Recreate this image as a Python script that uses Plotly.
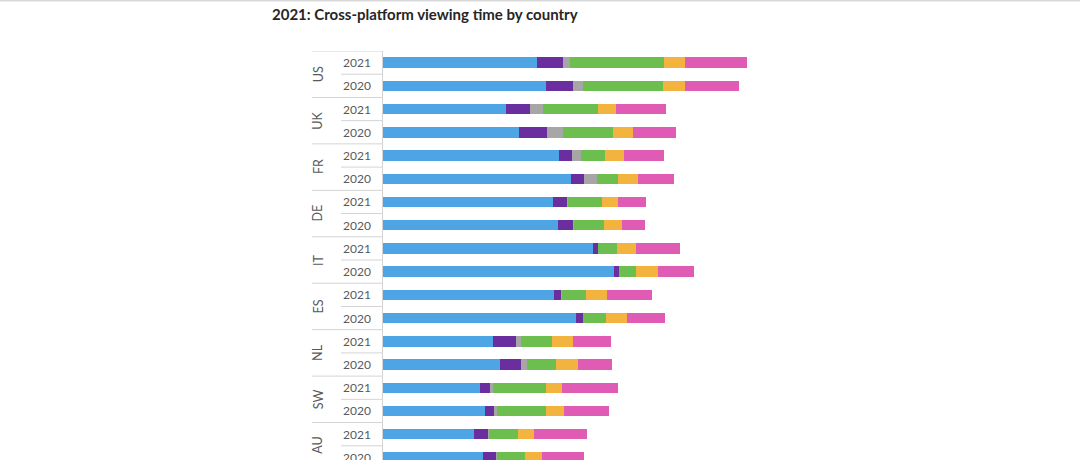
import plotly.graph_objects as go

# ---- data (segment lengths, same arbitrary time unit) ----
countries = ["US", "UK", "FR", "DE", "IT", "ES", "NL", "SW", "AU"]
years = ["2021", "2020"]

segment_names = ["Segment 1", "Segment 2", "Segment 3", "Segment 4", "Segment 5", "Segment 6"]
segment_colors = ["#4DA5E6", "#6A2E9E", "#A6A6A6", "#6CBE4E", "#F2B43E", "#E05BB4"]

# order of rows: US 2021, US 2020, UK 2021, UK 2020, ...
seg1 = [154, 163, 123, 136, 176, 188, 170, 175, 210, 231, 171, 193, 110, 117, 97, 102, 91, 100]
seg2 = [26, 27, 24, 28, 13, 13, 14, 15, 5, 5, 7, 7, 23, 21, 10, 9, 14, 13]
seg3 = [7, 10, 13, 16, 9, 13, 1, 1, 0, 0, 1, 0, 5, 6, 3, 3, 1, 1]
seg4 = [94, 80, 55, 50, 24, 21, 34, 30, 19, 17, 24, 23, 31, 29, 53, 49, 29, 28]
seg5 = [21, 22, 18, 20, 19, 20, 16, 18, 19, 22, 21, 21, 21, 22, 16, 18, 16, 17]
seg6 = [62, 54, 50, 43, 40, 36, 28, 23, 44, 36, 45, 38, 38, 34, 56, 45, 53, 42]
series = [seg1, seg2, seg3, seg4, seg5, seg6]

title_text = "2021: Cross-platform viewing time by country"

# ---- figure ----
n_rows = len(countries) * len(years)
row_pos = list(range(n_rows))

fig = go.Figure()
for name, color, vals in zip(segment_names, segment_colors, series):
    fig.add_trace(go.Bar(
        y=row_pos, x=vals, orientation="h", name=name,
        marker=dict(color=color, line=dict(width=0)),
    ))

W, H = 1080, 460
ml, mt = 383, 51.4
pitch = 23.2
plot_w = W - ml
plot_h = H - mt
y_bottom = -0.5 + plot_h / pitch

grid_col = "#D4D4D4"
label_col = "#595959"
font_family = "Lato, 'Open Sans', sans-serif"

annotations = []
shapes = []
# year labels
for i in range(n_rows):
    annotations.append(dict(
        x=(357 - ml) / plot_w, xref="paper", y=i, yref="y",
        text=years[i % len(years)], showarrow=False, xanchor="center", yanchor="middle",
        font=dict(size=12, color=label_col, family=font_family),
    ))
# country labels (rotated)
for c, country in enumerate(countries):
    mid = c * len(years) + (len(years) - 1) / 2
    annotations.append(dict(
        x=(318 - ml) / plot_w, xref="paper", y=mid, yref="y",
        text=country, showarrow=False, textangle=-90, xanchor="center", yanchor="middle",
        font=dict(size=12.5, color=label_col, family=font_family),
    ))
# table-like separator lines
for i in range(n_rows):
    boundary = i - 0.5
    if i % len(years) == 0:
        x0 = (312 - ml) / plot_w
    else:
        x0 = (341 - ml) / plot_w
    shapes.append(dict(type="line", xref="paper", yref="y", x0=x0, x1=0,
                       y0=boundary, y1=boundary, line=dict(color=grid_col, width=1)))
# thin gray border at the very top of the picture
shapes.append(dict(type="line", xref="paper", yref="paper", x0=-ml / plot_w, x1=1,
                   y0=1 + (mt - 1) / plot_h, y1=1 + (mt - 1) / plot_h,
                   line=dict(color="#D9D9D9", width=2)))

annotations.append(dict(
    x=(270 - ml) / plot_w, xref="paper", y=1 + (mt - 14) / plot_h, yref="paper",
    text="<b>" + title_text + "</b>", showarrow=False, xanchor="left", yanchor="middle",
    font=dict(size=15, color="#262626", family=font_family),
))

fig.update_layout(
    width=W, height=H,
    margin=dict(l=ml, r=0, t=mt, b=0, pad=0),
    barmode="stack", bargap=0.55,
    plot_bgcolor="white", paper_bgcolor="white",
    showlegend=False,
    xaxis=dict(range=[0, plot_w], visible=False, fixedrange=True),
    yaxis=dict(range=[y_bottom, -0.5], showticklabels=False, ticks="", showgrid=False,
               zeroline=False, showline=True, linecolor=grid_col, linewidth=1,
               fixedrange=True),
    annotations=annotations, shapes=shapes,
)

fig.write_html("out.html",
               config={"displayModeBar": False},
               post_script="document.body.style.margin='0';document.body.style.overflow='hidden';")
